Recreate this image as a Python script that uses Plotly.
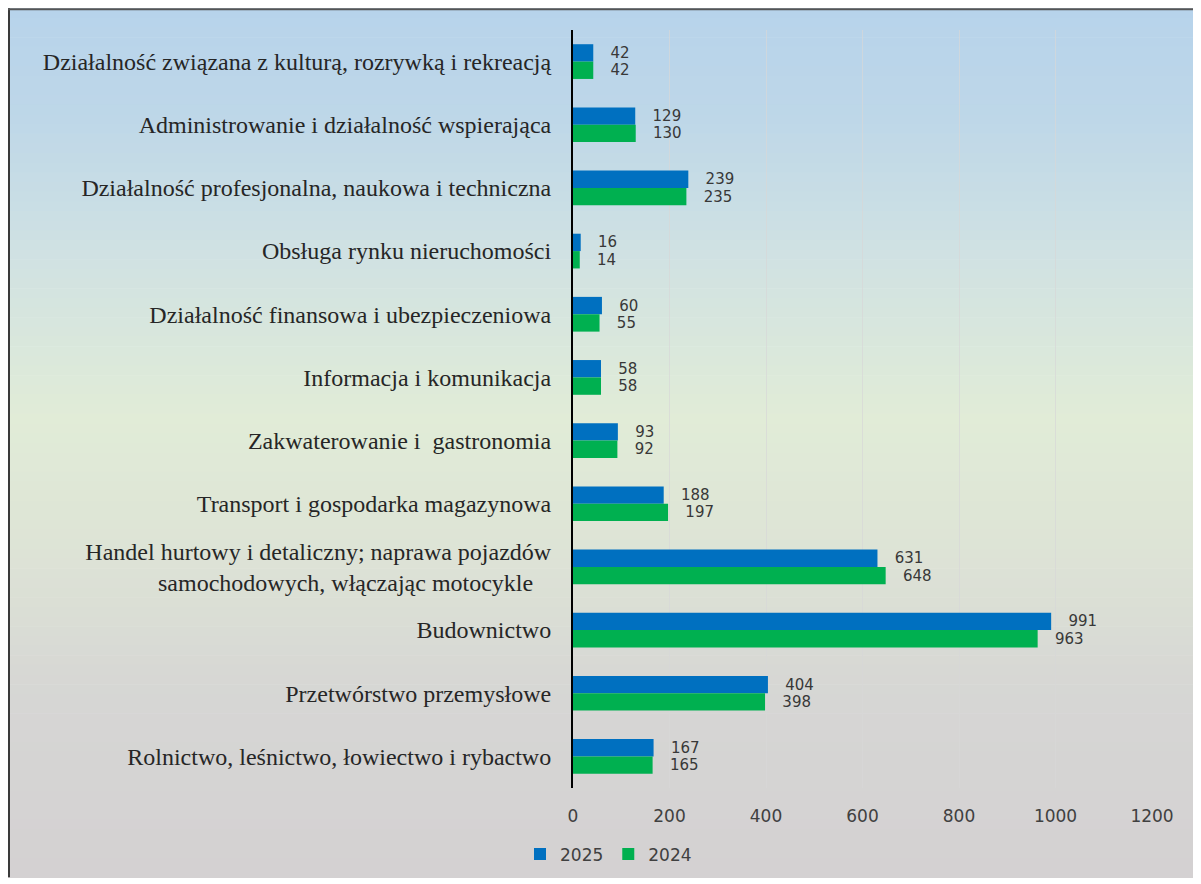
import plotly.graph_objects as go

categories = [
    "Działalność związana z kulturą, rozrywką i rekreacją",
    "Administrowanie i działalność wspierająca",
    "Działalność profesjonalna, naukowa i techniczna",
    "Obsługa rynku nieruchomości",
    "Działalność finansowa i ubezpieczeniowa",
    "Informacja i komunikacja",
    "Zakwaterowanie i  gastronomia",
    "Transport i gospodarka magazynowa",
    "Handel hurtowy i detaliczny; naprawa pojazdów<br>samochodowych, włączając motocykle\u00a0\u00a0\u00a0",
    "Budownictwo",
    "Przetwórstwo przemysłowe",
    "Rolnictwo, leśnictwo, łowiectwo i rybactwo",
]
values_2025 = [42, 129, 239, 16, 60, 58, 93, 188, 631, 991, 404, 167]
values_2024 = [42, 130, 235, 14, 55, 58, 92, 197, 648, 963, 398, 165]
x_ticks = [0, 200, 400, 600, 800, 1000, 1200]

OFF = 8  # page body margin
W, H = 1201 - OFF, 884 - OFF
ML = 573 - OFF
MR = W - (1152 - OFF)
MT = 30 - OFF
MB = H - (794 - OFF)
pw, ph = W - ML - MR, H - MT - MB


def px_x(p):  # page pixel -> paper x
    return (p - OFF - ML) / pw


def px_y(p):  # page pixel -> paper y
    return (H - MB - (p - OFF)) / ph


stops = [(8, (183, 211, 235)), (120, (190, 215, 232)), (250, (207, 225, 227)),
         (420, (225, 236, 215)), (560, (221, 227, 214)), (700, (214, 214, 212)),
         (884, (212, 209, 210))]


def col_at(p):
    for (a, ca), (b, cb) in zip(stops[:-1], stops[1:]):
        if a <= p <= b:
            t = (p - a) / (b - a)
            return tuple(round(ca[i] + (cb[i] - ca[i]) * t) for i in range(3))
    return stops[-1][1]


shapes = []
n = 90
top, bot = 8, 884
for i in range(n):
    y0 = top + (bot - top) * i / n
    y1 = top + (bot - top) * (i + 1) / n + 0.6
    c = col_at((y0 + y1) / 2)
    shapes.append(dict(type="rect", xref="paper", yref="paper", layer="below",
                       x0=px_x(8), x1=px_x(1197), y0=px_y(y1), y1=px_y(y0),
                       line=dict(width=0), fillcolor="rgb(%d,%d,%d)" % c))
# border
shapes.append(dict(type="line", xref="paper", yref="paper", layer="above",
                   x0=px_x(9), x1=px_x(9), y0=px_y(8), y1=px_y(884),
                   line=dict(color="#3a3a3a", width=2)))
shapes.append(dict(type="line", xref="paper", yref="paper", layer="above",
                   x0=px_x(8), x1=px_x(1201), y0=px_y(9), y1=px_y(9),
                   line=dict(color="#555555", width=2)))
shapes.append(dict(type="line", xref="paper", yref="paper", layer="above",
                   x0=px_x(1197.5), x1=px_x(1197.5), y0=px_y(8), y1=px_y(884),
                   line=dict(color="#c8c8c8", width=1)))

label_font = dict(family="DejaVu Sans", size=15, color="#383838")
fig = go.Figure()
fig.add_trace(go.Bar(
    y=categories, x=values_2025, name="2025", orientation="h",
    marker=dict(color="#0070C0", line=dict(width=0)),
    text=values_2025, texttemplate="\u00a0\u00a0\u00a0%{x}", textposition="outside",
    textfont=label_font, cliponaxis=False, constraintext="none",
))
fig.add_trace(go.Bar(
    y=categories, x=values_2024, name="2024", orientation="h",
    marker=dict(color="#00B050", line=dict(width=0)),
    text=values_2024, texttemplate="\u00a0\u00a0\u00a0%{x}", textposition="outside",
    textfont=label_font, cliponaxis=False, constraintext="none",
))

fig.update_layout(
    width=W, height=H,
    margin=dict(l=ML, r=MR, t=MT, b=MB, pad=0),
    barmode="group", bargap=0.45, bargroupgap=0,
    paper_bgcolor="white", plot_bgcolor="rgba(0,0,0,0)",
    shapes=shapes,
    showlegend=True,
    legend=dict(orientation="h", x=px_x(520), y=px_y(861), xanchor="left", yanchor="middle",
                font=dict(family="DejaVu Sans", size=17, color="#404040"),
                bgcolor="rgba(0,0,0,0)", itemwidth=30, traceorder="normal"),
    uniformtext=dict(mode=False),
)
fig.update_xaxes(range=[0, 1200], tickvals=x_ticks, ticktext=[str(v) for v in x_ticks],
                 showgrid=True, gridcolor="rgba(215,215,215,0.7)", gridwidth=1,
                 zeroline=False, showline=False,
                 tickfont=dict(family="DejaVu Sans", size=17, color="#404040"),
                 ticklabelstandoff=16)
fig.update_yaxes(autorange="reversed", showline=True, linecolor="black", linewidth=2,
                 showgrid=False, ticks="",
                 tickfont=dict(family="Liberation Serif", size=24, color="#262626"),
                 ticklabelstandoff=15)
fig.write_html("out.html")
